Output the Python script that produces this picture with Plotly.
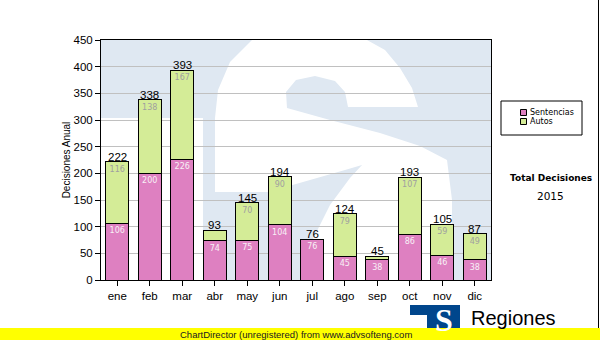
import plotly.graph_objects as go

months = ["ene", "feb", "mar", "abr", "may", "jun", "jul", "ago", "sep", "oct", "nov", "dic"]
sentencias = [106, 200, 226, 74, 75, 104, 76, 45, 38, 86, 46, 38]
autos = [116, 138, 167, 19, 70, 90, 0, 79, 7, 107, 59, 49]
y_ticks = [0, 50, 100, 150, 200, 250, 300, 350, 400, 450]
legend_names = ["Sentencias", "Autos"]
side_title = "Total Decisiones"
side_year = "2015"
y_title = "Decisiones Anual"
brand = "Regiones"
footer = "ChartDirector (unregistered) from www.advsofteng.com"

totals = [s + a for s, a in zip(sentencias, autos)]

PINK = "#de80c1"
GREEN = "#d4ec97"
WM = "#dfe8f2"

# plot area in pixels: x 101..491, y 40..280
L, R, T, B = 101, 491, 40, 280


def px(x):
    return (x - L) / (R - L)


def py(y):
    return (B - y) / (B - T)


def path(points):
    return "M " + " L ".join(f"{px(x):.5f},{py(y):.5f}" for x, y in points) + " Z"


def note(x, y, text, font, xanchor="center", yanchor="middle"):
    return dict(x=px(x), y=py(y), xref="paper", yref="paper", text=text,
                showarrow=False, xanchor=xanchor, yanchor=yanchor, font=font)


fig = go.Figure()
fig.add_bar(
    x=months, y=sentencias, name=legend_names[0],
    marker=dict(color=PINK, line=dict(color="black", width=1)),
    text=[str(v) if v >= 25 else "" for v in sentencias],
    textposition="inside", insidetextanchor="end", textangle=0,
    textfont=dict(family="DejaVu Sans", size=8, color="#f8f0f6"),
    showlegend=False, hoverinfo="x+y+name",
)
fig.add_bar(
    x=months, y=autos, name=legend_names[1],
    marker=dict(color=GREEN, line=dict(color="black", width=1)),
    text=[str(v) if v >= 25 else "" for v in autos],
    textposition="inside", insidetextanchor="end", textangle=0,
    textfont=dict(family="DejaVu Sans", size=8, color="#a0a0a0"),
    showlegend=False, hoverinfo="x+y+name",
)

annotations = []
for m, t in zip(months, totals):
    annotations.append(dict(
        x=m, y=t, xref="x", yref="y", text=str(t), showarrow=False,
        xanchor="center", yanchor="bottom", yshift=-3,
        font=dict(family="Liberation Sans", size=11.5, color="black"),
    ))

shapes = []
# watermark: light blue block with white S
shapes.append(dict(
    type="path", xref="paper", yref="paper", layer="below",
    path=path([(101, 40), (491, 40), (491, 280), (203, 280), (203, 118), (101, 118)]),
    fillcolor=WM, line=dict(width=0),
))
s_pts = [
    (252, 40), (367, 40), (385, 50), (400, 68), (412, 88), (418, 107),
    (348, 107), (345, 92), (335, 81), (315, 76), (296, 80), (286, 92), (287, 108),
    (330, 120), (380, 133), (420, 146), (447, 160),
    (452, 200), (452, 240), (448, 280),
    (300, 280), (310, 245), (330, 205), (350, 178), (362, 165),
    (345, 170), (310, 180), (268, 192),
    (215, 192), (215, 150), (215, 118), (218, 90), (230, 62),
]
shapes.append(dict(
    type="path", xref="paper", yref="paper", layer="below",
    path=path(s_pts), fillcolor="white", line=dict(width=0),
))

# legend box (drawn manually to match the small ChartDirector legend)
shapes.append(dict(type="rect", xref="paper", yref="paper",
                   x0=px(501), x1=px(582), y0=py(101), y1=py(135),
                   line=dict(color="black", width=1), fillcolor="white"))
for i, (nm, col) in enumerate(zip(legend_names, [PINK, GREEN])):
    yc = 112.5 + 9 * i
    shapes.append(dict(type="rect", xref="paper", yref="paper",
                       x0=px(520.5), x1=px(526.5), y0=py(yc - 3), y1=py(yc + 3),
                       line=dict(color="black", width=1), fillcolor=col))
    annotations.append(note(528, yc, nm, dict(family="DejaVu Sans", size=8, color="black"),
                            xanchor="left"))

annotations.append(note(551, 177.5, "<b>" + side_title + "</b>",
                        dict(family="DejaVu Sans", size=9, color="black")))
annotations.append(note(550, 196, side_year,
                        dict(family="DejaVu Sans", size=10.5, color="black")))

# right border line of image
shapes.append(dict(type="line", xref="paper", yref="paper",
                   x0=px(598.5), x1=px(598.5), y0=py(0), y1=py(328),
                   line=dict(color="black", width=1)))

# logo
shapes.append(dict(type="path", xref="paper", yref="paper",
                   path=path([(410, 305), (460, 305), (460, 330), (427, 330), (427, 315), (410, 315)]),
                   fillcolor="#00468c", line=dict(width=0)))
annotations.append(note(444, 320, "<b>S</b>",
                        dict(family="Liberation Serif", size=32, color="white")))
annotations.append(note(469, 318, brand,
                        dict(family="Liberation Sans", size=20, color="black"), xanchor="left"))

# footer bar
shapes.append(dict(type="rect", xref="paper", yref="paper",
                   x0=px(0), x1=px(600), y0=py(328), y1=py(341),
                   fillcolor="#ffff00", line=dict(width=0)))
annotations.append(note(296, 334, footer,
                        dict(family="Liberation Sans", size=9.5, color="#202020")))

fig.update_layout(
    width=600, height=340,
    margin=dict(l=L, r=600 - R, t=T, b=340 - B),
    paper_bgcolor="white", plot_bgcolor="rgba(0,0,0,0)",
    barmode="stack", bargap=0.29,
    shapes=shapes, annotations=annotations,
    showlegend=False,
    font=dict(family="Liberation Sans", size=11, color="black"),
)
fig.update_xaxes(
    type="category", showline=True, linecolor="black", linewidth=1, mirror=True,
    ticks="outside", ticklen=5, tickcolor="black", showgrid=False,
    tickfont=dict(family="Liberation Sans", size=11.5, color="black"),
)
fig.update_yaxes(
    range=[0, 450], tickvals=y_ticks, showline=True, linecolor="black", linewidth=1,
    mirror=True, ticks="outside", ticklen=5, tickcolor="black",
    showgrid=True, gridcolor="#c0c0c0", gridwidth=1, zeroline=False,
    tickfont=dict(family="Liberation Sans", size=11.5, color="black"),
    title=dict(text=y_title, font=dict(family="Liberation Sans", size=10, color="black"), standoff=1),
)

fig.write_html("out.html")
